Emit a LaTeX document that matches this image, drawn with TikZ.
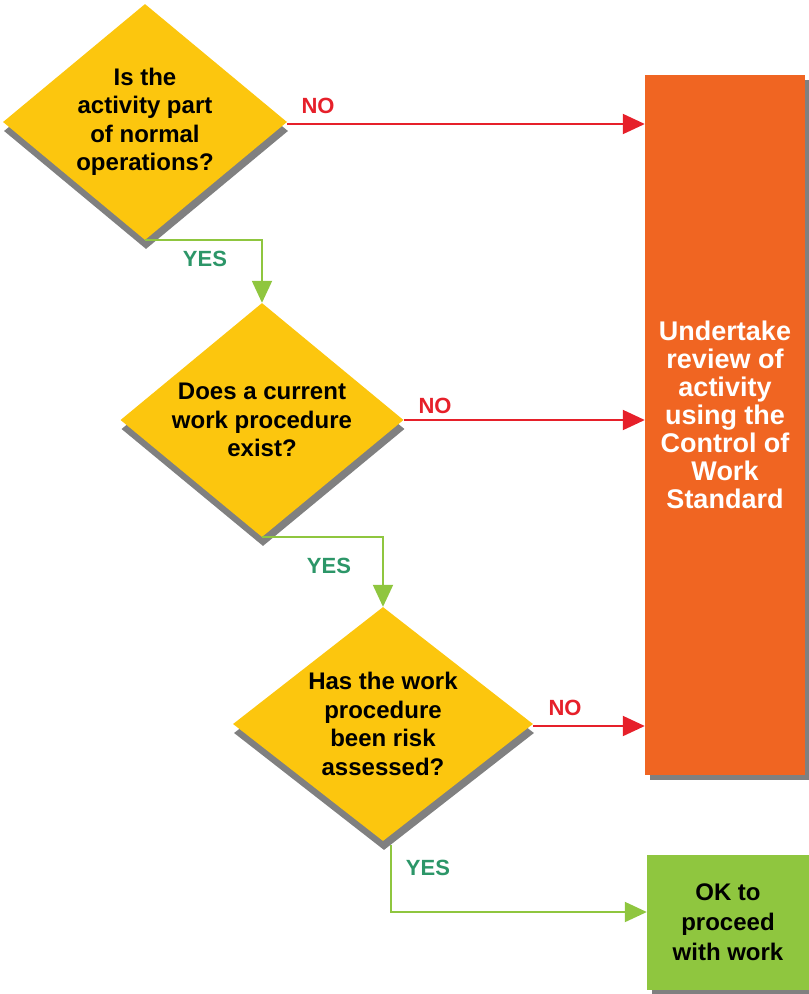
\documentclass[tikz,border=0pt]{standalone}
\usepackage{fontspec}
\setmainfont{Liberation Sans}
\usetikzlibrary{shapes.geometric,arrows.meta,shadows}
\definecolor{dyellow}{RGB}{252,198,14}
\definecolor{borange}{RGB}{240,101,34}
\definecolor{bgreen}{RGB}{143,198,63}
\definecolor{nored}{RGB}{230,32,42}
\definecolor{yesteal}{RGB}{44,150,104}
\definecolor{shadowgray}{RGB}{128,128,128}
\tikzset{
  x=1pt, y=-1pt,
  decision/.style={shape=diamond, fill=dyellow, inner sep=0pt,
    drop shadow={shadow xshift=1pt, shadow yshift=-9pt, fill=shadowgray, opacity=1}},
  dtext/.style={align=center, inner sep=0pt, font=\fontsize{24}{28.5}\selectfont\bfseries},
  boxnode/.style={shape=rectangle, inner sep=0pt, align=center,
    drop shadow={shadow xshift=5pt, shadow yshift=-5pt, fill=shadowgray, opacity=1}},
  noline/.style={draw=nored, line width=2pt, -{Triangle[length=22pt,width=20pt]}},
  yesline/.style={draw=bgreen, line width=2pt, -{Triangle[length=22pt,width=20pt]}},
  nolabel/.style={text=nored, font=\fontsize{22}{24}\selectfont\bfseries},
  yeslabel/.style={text=yesteal, font=\fontsize{22}{24}\selectfont\bfseries},
}
\begin{document}
\begin{tikzpicture}
\useasboundingbox (0,0) rectangle (809,994);
\node[decision, minimum width=284pt, minimum height=236pt] (d1) at (145,122) {};
\node[dtext] (d1text) at (d1.center) {Is the\\activity part\\of normal\\operations?};
\node[decision, minimum width=283pt, minimum height=234pt] (d2) at (262,420) {};
\node[dtext] (d2text) at (d2.center) {Does a current\\work procedure\\exist?};
\node[decision, minimum width=300pt, minimum height=234pt] (d3) at (383,724) {};
\node[dtext] (d3text) at (d3.center) {Has the work\\procedure\\been risk\\assessed?};
\node[boxnode, fill=borange, minimum width=160pt, minimum height=700pt] (rev) at (725,425) {};
\node[text=white, align=center, font=\fontsize{27}{28}\selectfont\bfseries] (revtext) at (725,415)
  {Undertake\\review of\\activity\\using the\\Control of\\Work\\Standard};
\node[boxnode, fill=bgreen, text=black, minimum width=162pt, minimum height=135pt,
  font=\fontsize{24}{30}\selectfont\bfseries] (ok) at (728,922)
  {OK to\\proceed\\with  work};

\draw[noline] ([yshift=-2pt]d1.east) -- ([yshift=-2pt]d1.east -| rev.west);
\draw[noline] (d2.east) -- (d2.east -| rev.west);
\draw[noline] ([yshift=-2pt]d3.east) -- ([yshift=-2pt]d3.east -| rev.west);
\draw[yesline] (d1.south) -| (d2.north);
\draw[yesline] (d2.south) -| (d3.north);
\draw[yesline] ([xshift=8pt,yshift=-4pt]d3.south) |- ([yshift=10pt]ok.west);

\node[nolabel] (no1) at (318,106) {NO};
\node[nolabel] (no2) at (435,406) {NO};
\node[nolabel] (no3) at (565,708) {NO};
\node[yeslabel] (yes1) at (205,259) {YES};
\node[yeslabel] (yes2) at (329,566) {YES};
\node[yeslabel] (yes3) at (428,868) {YES};
\end{tikzpicture}
\end{document}
